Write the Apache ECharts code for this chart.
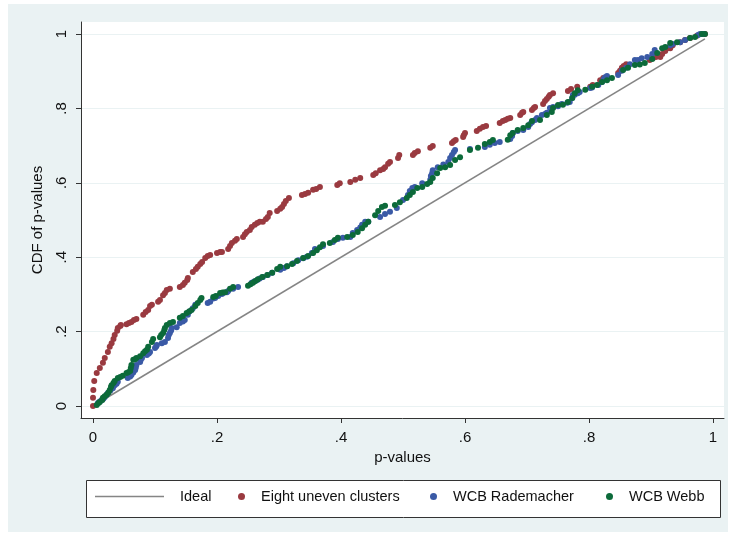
<!DOCTYPE html>
<html><head><meta charset="utf-8">
<script src="https://cdn.jsdelivr.net/npm/echarts@6/dist/echarts.min.js"></script>
<style>html,body{margin:0;padding:0;background:#fff}#c{width:733px;height:537px}</style>
</head><body><div id="c"></div>
<script>
const seriesNames = ['Ideal', 'Eight uneven clusters', 'WCB Rademacher', 'WCB Webb'];
const tickValues = [0, 0.2, 0.4, 0.6, 0.8, 1];
const tickLabels = ['0', '.2', '.4', '.6', '.8', '1'];
const xTitle = 'p-values';
const yTitle = 'CDF of p-values';

const ideal = [[0, 0], [0.987, 0.987]];

const eightUneven = [
[0,0],[0,.022],[.0005,.043],[.002,.067],[.006,.089],[.011,.102],[.016,.116],[.019,.129],[.024,.145],[.027,.159],
[.030,.169],[.033,.180],[.035,.191],[.039,.202],[.040,.210],[.044,.215],[.045,.218],
[.054,.220],[.058,.223],[.062,.226],[.066,.231],[.070,.234],
[.081,.245],[.085,.253],[.089,.258],[.092,.269],[.095,.272],
[.105,.280],[.108,.285],[.113,.298],[.116,.304],[.119,.312],[.124,.315],
[.140,.320],[.145,.325],[.148,.331],[.152,.339],[.153,.344],
[.161,.360],[.166,.368],[.169,.374],[.173,.382],[.176,.387],[.181,.398],[.185,.403],[.189,.406],
[.200,.411],[.205,.414],[.208,.414],
[.218,.422],[.221,.430],[.224,.438],[.229,.444],[.232,.449],
[.242,.454],[.245,.462],[.248,.468],[.253,.473],[.256,.481],[.261,.487],[.265,.492],[.269,.495],[.274,.495],[.279,.503],[.282,.508],[.285,.519],
[.297,.524],[.302,.530],[.305,.535],[.308,.543],[.311,.551],[.316,.559],
[.337,.567],[.342,.570],[.347,.573],[.355,.581],[.360,.583],[.366,.589],
[.394,.594],[.398,.599],
[.415,.602],[.423,.608],[.431,.613],
[.452,.621],[.456,.626],[.463,.634],[.468,.637],[.471,.642],[.476,.651],[.479,.656],
[.492,.667],[.494,.675],
[.516,.675],[.519,.680],[.524,.685],
[.544,.694],[.548,.699],
[.579,.707],[.582,.712],[.585,.715],
[.597,.723],[.598,.728],[.600,.734],
[.619,.739],[.624,.745],[.629,.750],[.634,.753],
[.656,.761],[.661,.766],[.665,.769],[.669,.772],[.673,.774],
[.689,.782],[.692,.788],[.694,.790],
[.708,.796],[.711,.801],[.713,.804],
[.726,.812],[.729,.820],[.732,.825],[.735,.831],[.737,.836],[.742,.841],
[.766,.847],[.771,.852],[.781,.858],
[.802,.858],[.806,.863],[.818,.876],[.823,.882],[.829,.884],
[.847,.895],[.850,.901],[.853,.909],[.856,.914],[.860,.919],
[.898,.930],[.903,.935],[.908,.938],[.915,.938],[.918,.946],[.923,.954],[.926,.962],[.931,.962],[.935,.970],
[.947,.978],[.955,.984],[.963,.989],[.974,.995],[.987,1.0]
];

const wcbRademacher = [
[.008,.008],[.011,.012],[.014,.016],[.017,.020],[.019,.024],[.022,.030],[.024,.035],[.028,.042],[.032,.048],[.035,.056],[.038,.060],[.040,.065],
[.056,.075],[.060,.079],[.062,.083],[.065,.090],[.068,.097],[.069,.103],[.070,.110],
[.076,.118],[.077,.124],[.079,.129],
[.087,.137],[.090,.141],[.092,.145],
[.100,.156],[.102,.160],[.103,.164],
[.111,.169],[.116,.172],[.121,.183],[.122,.190],[.124,.196],[.126,.203],[.127,.210],
[.135,.212],[.140,.223],[.145,.227],[.148,.231],[.153,.245],[.156,.255],[.161,.263],[.165,.272],
[.185,.277],[.189,.280],[.194,.289],[.197,.290],[.202,.296],[.208,.301],[.210,.304],[.216,.306],[.218,.309],[.226,.315],[.234,.320],
[.256,.331],[.260,.335],[.265,.339],[.269,.343],[.274,.347],[.282,.352],[.289,.358],
[.302,.366],[.308,.371],[.313,.376],[.323,.384],[.331,.392],[.339,.397],[.345,.401],[.353,.411],[.358,.422],
[.371,.430],
[.387,.441],[.395,.449],[.403,.452],
[.415,.454],[.419,.465],[.426,.473],[.431,.480],[.434,.487],[.439,.495],[.444,.495],
[.463,.508],[.471,.516],[.479,.522],[.490,.532],
[.500,.554],[.508,.567],[.511,.578],[.515,.586],[.519,.589],[.531,.599],[.544,.608],[.545,.618],[.547,.626],[.548,.634],
[.556,.642],[.565,.649],[.573,.656],[.576,.667],[.579,.675],[.582,.683],[.584,.688],
[.608,.691],[.632,.696],[.640,.702],[.648,.707],[.656,.710],
[.673,.718],[.676,.726],[.677,.734],[.685,.739],[.694,.742],[.702,.750],[.705,.758],[.708,.763],[.713,.769],
[.716,.774],[.724,.782],[.729,.785],[.732,.788],[.737,.801],[.742,.804],
[.750,.806],[.756,.812],[.765,.815],[.769,.817],[.773,.828],[.774,.836],[.777,.837],[.782,.841],[.785,.844],
[.802,.855],[.805,.856],[.815,.863],[.821,.871],[.824,.879],[.826,.884],[.829,.887],
[.847,.890],[.853,.901],[.860,.909],[.866,.919],[.874,.930],[.879,.930],
[.885,.935],[.894,.938],[.902,.946],[.906,.957],
[.931,.970],[.935,.973],[.947,.978],[.955,.984],[.976,.997],[.979,1.0],[.984,1.0]
];

const wcbWebb = [
[.006,.003],[.009,.008],[.011,.011],[.015,.016],[.016,.022],[.019,.026],[.022,.030],[.025,.036],[.027,.043],[.029,.051],
[.030,.056],[.033,.062],[.035,.067],[.040,.075],[.044,.078],[.048,.081],[.054,.089],[.057,.091],[.060,.094],[.061,.102],
[.062,.110],[.065,.124],[.068,.126],[.070,.129],[.076,.134],[.081,.142],[.084,.147],[.087,.151],[.089,.159],
[.095,.172],[.097,.180],
[.108,.185],[.110,.191],[.113,.196],[.115,.204],[.116,.210],[.119,.218],[.124,.223],[.129,.226],
[.140,.237],[.145,.242],[.151,.250],[.155,.254],[.159,.258],[.165,.269],[.169,.277],[.173,.285],[.175,.290],
[.194,.293],[.198,.296],[.205,.304],[.209,.305],[.213,.306],[.221,.315],[.226,.320],
[.250,.323],[.254,.327],[.258,.331],[.262,.336],[.266,.341],[.273,.347],[.281,.352],[.289,.358],[.297,.368],[.302,.374],
[.313,.376],[.321,.382],[.329,.390],[.339,.398],[.347,.403],[.355,.411],[.361,.419],[.366,.427],[.371,.435],
[.382,.438],[.390,.446],[.395,.452],
[.410,.454],
[.419,.460],[.427,.468],[.434,.478],[.439,.487],[.444,.495],
[.455,.513],[.460,.524],[.466,.535],[.471,.538],
[.487,.540],[.495,.548],
[.506,.559],[.511,.567],[.516,.575],[.523,.586],[.531,.589],[.539,.597],[.544,.602],[.548,.613],[.555,.626],[.560,.640],
[.568,.642],[.576,.648],[.584,.661],[.592,.669],
[.608,.688],[.621,.694],
[.632,.704],[.640,.710],[.645,.715],
[.669,.716],[.673,.728],[.677,.734],[.685,.742],[.694,.747],[.702,.755],[.708,.766],
[.721,.769],
[.732,.782],[.740,.790],[.742,.801],[.750,.809],[.758,.810],[.766,.817],[.773,.828],[.777,.841],[.782,.849],
[.794,.850],
[.805,.858],[.813,.863],[.821,.871],[.829,.876],[.837,.882],
[.855,.903],[.863,.909],[.874,.917],[.882,.918],[.890,.922],[.902,.933],[.910,.949],[.918,.962],[.923,.965],[.931,.976],[.942,.978],
[.963,.989],[.971,.992],[.982,1.0],[.987,1.0]
];

const colors = { ideal: '#858585', red: '#9a3a40', blue: '#3a5aa6', green: '#0c6a3a' };
const labelFmt = v => { const i = tickValues.findIndex(t => Math.abs(t - v) < 1e-9); return i >= 0 ? tickLabels[i] : ''; };
const FONT = 'Liberation Sans, Arial, sans-serif';

const chart = echarts.init(document.getElementById('c'), null, { renderer: 'canvas' });
const legendBase = { orient: 'horizontal', padding: 0, top: 489, itemHeight: 14, selectedMode: false,
  textStyle: { fontFamily: FONT, fontSize: 14.5, color: '#111' } };
chart.setOption({
  animation: false,
  backgroundColor: '#ffffff',
  graphic: [
    { type: 'rect', z: -10, shape: { x: 8, y: 4, width: 720, height: 528 }, style: { fill: '#eaf2f3' } },
    { type: 'rect', z: 1, shape: { x: 86.5, y: 480.5, width: 634, height: 37 }, style: { fill: '#ffffff', stroke: '#333', lineWidth: 1 } }
  ],
  grid: { left: 81, right: 9, top: 22, bottom: 119, show: true, backgroundColor: '#ffffff', borderWidth: 0 },
  xAxis: {
    type: 'value', min: -12 / 620, max: 631 / 620,
    name: xTitle, nameLocation: 'middle', nameGap: 30,
    nameTextStyle: { fontFamily: FONT, fontSize: 15, color: '#111' },
    axisLine: { show: true, onZero: false, lineStyle: { color: '#333', width: 1 } },
    axisTick: { show: true, length: 5, customValues: tickValues, lineStyle: { color: '#333' } },
    axisLabel: { customValues: tickValues, formatter: labelFmt, margin: 12, fontFamily: FONT, fontSize: 15, color: '#111' },
    splitLine: { show: false }
  },
  yAxis: {
    type: 'value', min: -12 / 372, max: 384 / 372,
    name: yTitle, nameLocation: 'middle', nameGap: 36,
    nameTextStyle: { fontFamily: FONT, fontSize: 15, color: '#111' },
    axisLine: { show: true, onZero: false, lineStyle: { color: '#333', width: 1 } },
    axisTick: { show: true, length: 5, customValues: tickValues, lineStyle: { color: '#333' } },
    axisLabel: { customValues: tickValues, formatter: labelFmt, rotate: 90, margin: 12, fontFamily: FONT, fontSize: 15, color: '#111' },
    splitLine: { show: true, customValues: tickValues, lineStyle: { color: '#eaf2f3', width: 1.2 } }
  },
  legend: [
    Object.assign({}, legendBase, { left: 95, itemWidth: 69, itemHeight: 1.6, data: [{ name: seriesNames[0], icon: 'rect', itemStyle: { color: colors.ideal }, textStyle: { padding: [0, 0, 0, 11] } }] }),
    Object.assign({}, legendBase, { left: 238, itemWidth: 7, itemHeight: 7, data: [{ name: seriesNames[1], icon: 'circle', textStyle: { padding: [0, 0, 0, 11] } }] }),
    Object.assign({}, legendBase, { left: 430, itemWidth: 7, itemHeight: 7, data: [{ name: seriesNames[2], icon: 'circle', textStyle: { padding: [0, 0, 0, 11] } }] }),
    Object.assign({}, legendBase, { left: 606, itemWidth: 7, itemHeight: 7, data: [{ name: seriesNames[3], icon: 'circle', textStyle: { padding: [0, 0, 0, 11] } }] })
  ],
  series: [
    { name: seriesNames[0], type: 'line', data: ideal, symbol: 'none', lineStyle: { color: colors.ideal, width: 1.6 }, itemStyle: { color: colors.ideal }, z: 2 },
    { name: seriesNames[1], type: 'scatter', data: eightUneven, symbolSize: 6, itemStyle: { color: colors.red, opacity: 1 }, z: 3 },
    { name: seriesNames[2], type: 'scatter', data: wcbRademacher, symbolSize: 6, itemStyle: { color: colors.blue, opacity: 1 }, z: 4 },
    { name: seriesNames[3], type: 'scatter', data: wcbWebb, symbolSize: 6, itemStyle: { color: colors.green, opacity: 1 }, z: 5 }
  ]
});
</script></body></html>
